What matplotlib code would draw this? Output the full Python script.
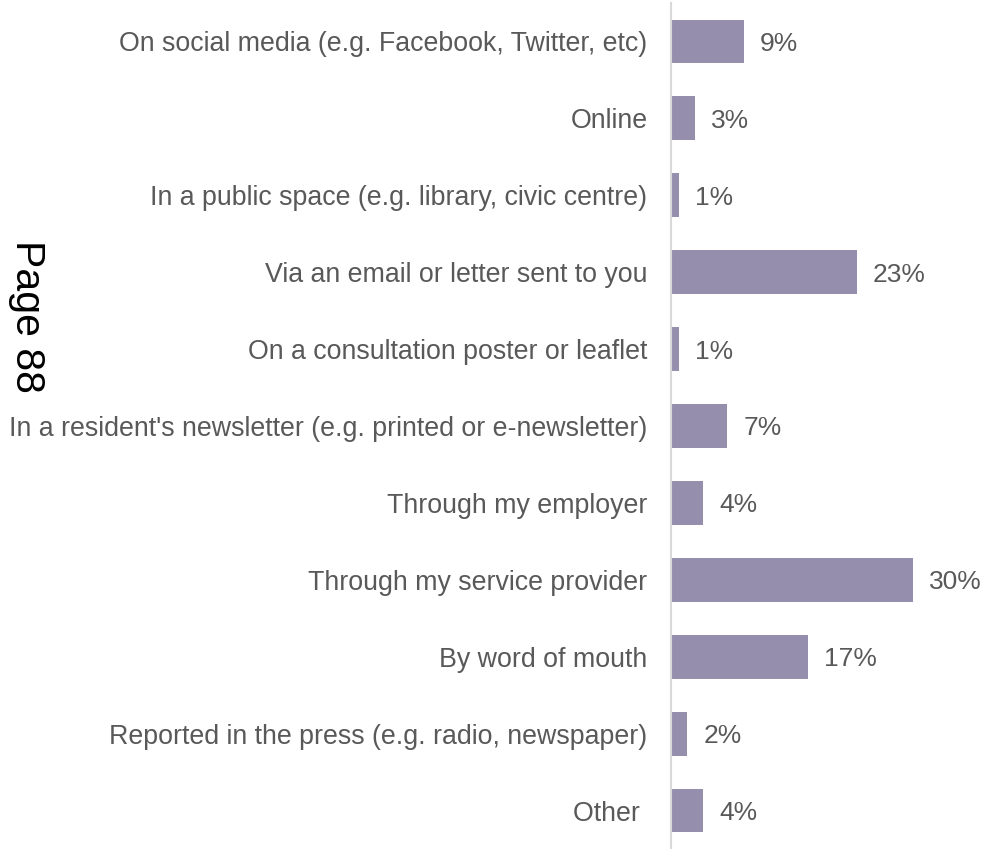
import matplotlib
matplotlib.use("Agg")
import matplotlib.pyplot as plt

categories = [
    "On social media (e.g. Facebook, Twitter, etc)",
    "Online",
    "In a public space (e.g. library, civic centre)",
    "Via an email or letter sent to you",
    "On a consultation poster or leaflet",
    "In a resident's newsletter (e.g. printed or e-newsletter)",
    "Through my employer",
    "Through my service provider",
    "By word of mouth",
    "Reported in the press (e.g. radio, newspaper)",
    "Other ",
]
values = [9, 3, 1, 23, 1, 7, 4, 30, 17, 2, 4]
value_labels = ["9%", "3%", "1%", "23%", "1%", "7%", "4%", "30%", "17%", "2%", "4%"]

plt.rcParams['font.family'] = ['Liberation Sans', 'DejaVu Sans']

W, H = 987, 849
fig = plt.figure(figsize=(W / 100, H / 100), dpi=100)
left = 671 / W
xmax = 38
px_per = 8.07
ax = fig.add_axes([left, 0, xmax * px_per / W, 846 / H])

bar_color = "#958fad"
text_color = "#595959"
y = list(range(len(categories)))
ax.barh(y, values, height=0.57, color=bar_color, edgecolor="none")
ax.set_ylim(len(categories) - 0.5, -0.5)
ax.set_xlim(0, xmax)

for yi, v, lab in zip(y, values, value_labels):
    ax.annotate(lab, (v, yi), xytext=(16, 0), textcoords="offset pixels",
                va="center_baseline", ha="left", fontsize=19, color=text_color)

ax.set_yticks(y)
ax.set_yticklabels(categories, fontsize=19.3, color=text_color)
ax.tick_params(axis="y", length=0, pad=17)
ax.set_xticks([])
for s in ["top", "right", "bottom"]:
    ax.spines[s].set_visible(False)
ax.spines["left"].set_color("#d9d9d9")
ax.spines["left"].set_linewidth(1.5)

fig.text(27 / W, 1 - 316 / H, "Page 88", rotation=270, ha="center", va="center",
         fontsize=29.5, color="black")

fig.savefig("out.png", dpi=100)
